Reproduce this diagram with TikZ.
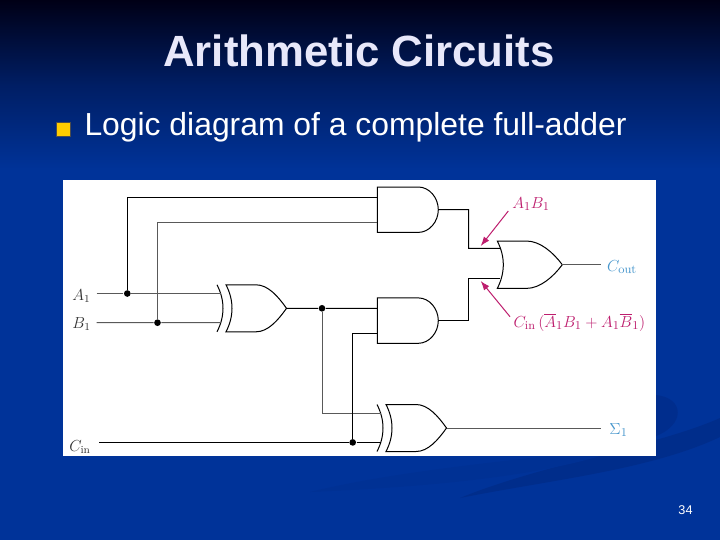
\documentclass[tikz,border=0pt]{standalone}
\usepackage{fontspec}
\newfontfamily\slidefont{Liberation Sans}
\usepackage{amsmath}
\usetikzlibrary{arrows.meta}
\definecolor{slideblue}{RGB}{0,51,153}
\definecolor{slidetop}{RGB}{0,0,22}
\definecolor{slidemid}{RGB}{0,30,100}
\definecolor{swoosh}{RGB}{0,43,135}
\definecolor{titlecol}{RGB}{232,232,250}
\definecolor{bulletcol}{RGB}{255,204,0}
\definecolor{notecol}{RGB}{190,30,110}
\definecolor{pincol}{RGB}{70,150,205}
\tikzset{every picture/.style={line width=0.75pt}}
\tikzset{
  wire/.style={draw=black,line width=0.75pt},
  thinwire/.style={draw=black!65,line width=0.75pt},
  junction/.style={circle,fill=black,inner sep=0pt,minimum size=5pt},
  pinlabel/.style={inner sep=0.75pt,text=black!80,font=\fontsize{11.5}{13}\selectfont},
  outlabel/.style={inner sep=0.75pt,text=pincol,font=\fontsize{13}{15}\selectfont},
  notelabel/.style={inner sep=0.75pt,text=notecol,font=\fontsize{12.7}{15}\selectfont},
  notearrow/.style={draw=notecol,line width=0.75pt,-{Latex[length=7pt,width=5pt]}},
  andgate/.pic={
    \draw (0,-22.7) -- (41,-22.7) .. controls (52,-22.7) and (61,-12) .. (61,0) .. controls (61,12) and (52,22.7) .. (41,22.7) -- (0,22.7) -- cycle ;
    \coordinate (-in1) at (0,12.3);
    \coordinate (-in2) at (0,-12.7);
    \coordinate (-out) at (61,0);
  },
  orgate/.pic={
    \draw (0,-23.7) -- (29,-23.7) .. controls (43,-23.7) and (56,-12) .. (65,0) .. controls (56,12) and (43,23.7) .. (29,23.7) -- (0,23.7) .. controls (8,8) and (8,-8) .. (0,-23.7) -- cycle ;
    \coordinate (-in1) at (3,16.4);
    \coordinate (-in2) at (3,-13.6);
    \coordinate (-out) at (65,0);
  },
  xorgate/.pic={
    \draw (0,-23.5) -- (30,-23.5) .. controls (42,-23.5) and (52,-12) .. (60.5,0) .. controls (52,12) and (42,23.5) .. (30,23.5) -- (0,23.5) .. controls (8,8) and (8,-8) .. (0,-23.5) -- cycle ;
    \draw (-9,-23.5) .. controls (-1,-8) and (-1,8) .. (-9,23.5) ;
    \coordinate (-in1) at (-5,14.8);
    \coordinate (-in2) at (-5,-14.4);
    \coordinate (-out) at (60.5,0);
  }
}

\begin{document}
\begin{tikzpicture}[x=0.75pt,y=0.75pt,yscale=-1,xscale=1]
\useasboundingbox (0,0) rectangle (720,540);

%Background
\fill [slideblue] (0,0) rectangle (720,540);
\fill [top color=slidetop,bottom color=slidemid] (0,0) rectangle (720,85);
\fill [top color=slidemid,bottom color=slideblue] (0,85) rectangle (720,170);
\fill [swoosh!70!slideblue] (656,395) .. controls (685,398) and (685,425) .. (656,436) -- cycle ;
\fill [swoosh!80!slideblue] (720,418) .. controls (660,445) and (540,465) .. (460,498) .. controls (550,480) and (650,470) .. (720,437) -- cycle ;
\fill [swoosh!30!slideblue] (600,450) .. controls (520,460) and (400,470) .. (310,492) .. controls (400,488) and (520,480) .. (600,456) -- cycle ;
\fill [white] (63,180) rectangle (656,456);

%Text
\node (title) at (359,51) [text=titlecol,font=\slidefont\fontsize{32.8}{36}\selectfont\bfseries] {Arithmetic Circuits};
\node (bullet) at (63.5,129) [fill=bulletcol,draw=black!70,line width=0.4pt,inner sep=0pt,minimum size=10.5pt] {};
\node (item) at (84,127) [anchor=west,inner sep=0pt,text=white,font=\slidefont\fontsize{23.9}{26}\selectfont] {Logic diagram of a complete full-adder};
\node (page) at (685.5,510) [text=white,font=\slidefont\fontsize{9.5}{11}\selectfont] {34};

%Gates
\pic (ga) at (377.3,209.7) {andgate};
\pic (gb) at (377.3,320.6) {andgate};
\pic (go) at (497.3,264.7) {orgate};
\pic (gx) at (226,308.3) {xorgate};
\pic (gs) at (386,428) {xorgate};

%Inputs
\coordinate (A1) at (96.7,293.5);
\coordinate (B1) at (96.7,322.7);
\coordinate (C1) at (99,442.4);
\node [junction] (da) at (127.3,293.5) {};
\node [junction] (db) at (157.5,322.7) {};
\node [junction] (dx) at (322,308.3) {};
\node [junction] (dc) at (352.7,442.4) {};
\coordinate (Cout) at (600.7,264.7);
\coordinate (Sum) at (601,428);

%Wires
\draw [thinwire] (A1) -- (da) -- (gx-in1);
\draw [thinwire] (B1) -- (db) -- (gx-in2);
\draw [wire] (da) |- (ga-in1);
\draw [thinwire] (db) |- (ga-in2);
\draw [wire] (gx-out) -- (dx) -- (gb-in1);
\draw [thinwire] (dx) |- (gs-in1);
\draw [wire] (dc) |- (gb-in2);
\draw [wire] (C1) -- (dc) -- (gs-in2);
\draw [wire] (ga-out) -| (468.7,248.3) -- (go-in1);
\draw [wire] (gb-out) -| (468.7,278.3) -- (go-in2);
\draw [thinwire] (go-out) -- (Cout);
\draw [thinwire] (gs-out) -- (Sum);

%Labels
\node [pinlabel] (la) at (81.5,296) {$A_1$};
\node [pinlabel] (lb) at (81.5,324) {$B_1$};
\node [pinlabel] (lc) at (80,447) {$C_{\mathrm{in}}$};
\node [outlabel] (lo) at (622,267) {$C_{\mathrm{out}}$};
\node [outlabel] (ls) at (618.5,430) {$\Sigma_1$};
\node [notelabel] (ln) at (531,204) {$A_1B_1$};
\node [notelabel] (lm) at (579.5,322) {$C_{\mathrm{in}}\,(\overline{A}_1B_1+A_1\overline{B}_1)$};
\coordinate (na) at (480.7,246);
\coordinate (nb) at (480.7,281);
\draw [notearrow] (508.3,211) -- (na);
\draw [notearrow] (510,316.7) -- (nb);
\end{tikzpicture}
\end{document}
